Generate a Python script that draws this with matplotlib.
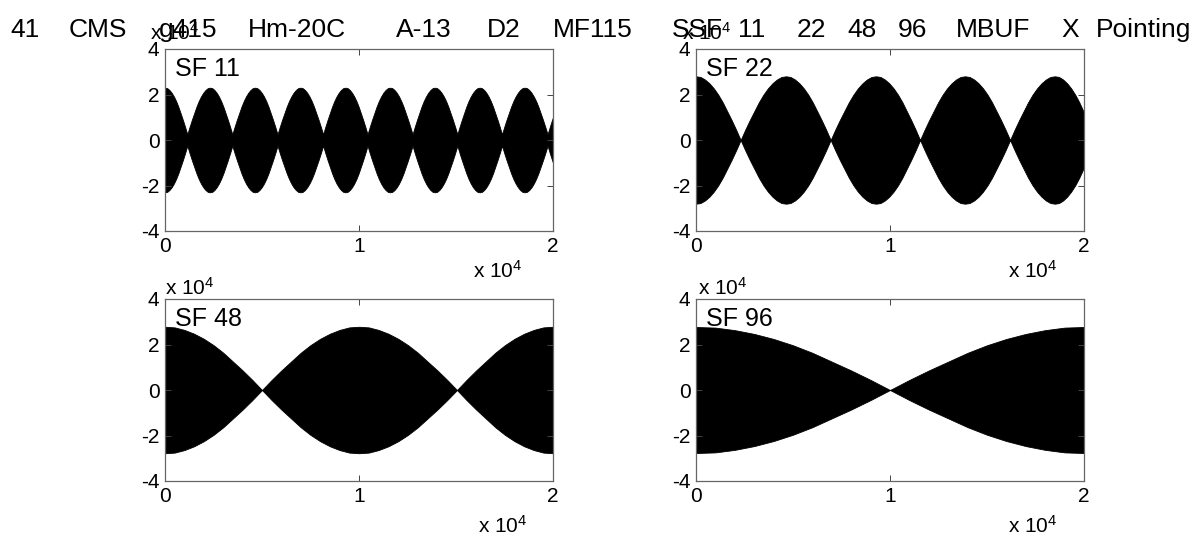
import numpy as np
import matplotlib.pyplot as plt

plt.rcParams['font.family'] = ['Liberation Sans', 'DejaVu Sans']
plt.rcParams['mathtext.fontset'] = 'custom'
plt.rcParams['mathtext.rm'] = 'Liberation Sans'
plt.rcParams['mathtext.it'] = 'Liberation Sans'

W, H = 1198, 536

# title words and where each one sits across the top (pixel centre, last one left edge)
title_words = ['41', 'CMS', 'g415', 'Hm-20C', 'A-13', 'D2', 'MF115', 'SSF',
               '11', '22', '48', '96', 'MBUF', 'X', 'Pointing']
title_x = [25, 98, 188, 297, 424, 504, 593, 697, 752, 811, 862, 912, 993, 1070, 1096]
sf_labels = ['SF 11', 'SF 22', 'SF 48', 'SF 96']

# envelope height from a peak (0) to a node (1)
lobe_frac = [0.0, 0.1, 0.2, 0.3, 0.4, 0.5, 0.6, 0.7, 0.8, 0.9, 1.0]
lobe_shape = [1.0, 0.99, 0.95, 0.89, 0.81, 0.71, 0.59, 0.45, 0.31, 0.16, 0.0]

# peak / node sample positions and amplitudes
peaks = [
    [0, 2320, 4640, 6980, 9300, 11600, 13910, 16220, 18540, 20880],
    [0, 4640, 9280, 13870, 18500],
    [0, 10000, 20000],
    [0, 20000],
]
nodes = [
    [1150, 3470, 5800, 8150, 10440, 12760, 15070, 17370, 19720],
    [2300, 6940, 11550, 16190, 20600],
    [5000, 15050],
    [10000],
]
amp = [2.3e4, 2.8e4, 2.78e4, 2.77e4]
neck = [2500, 0, 0, 0]

yticks = [-4e4, -2e4, 0, 2e4, 4e4]
ytick_labels = ['-4', '-2', '0', '2', '4']
xticks = [0, 1e4, 2e4]
xtick_labels = ['0', '1', '2']


def envelope(pk, nd, a, nk):
    knots = sorted([(x, 'p') for x in pk] + [(x, 'n') for x in nd])
    xs, ys = [], []
    shape = np.array(lobe_shape)
    frac = np.array(lobe_frac)
    for (x0, k0), (x1, k1) in zip(knots[:-1], knots[1:]):
        seg_x = x0 + (x1 - x0) * frac
        seg_y = shape if k0 == 'p' else shape[::-1]
        xs.extend(seg_x)
        ys.extend(nk + (a - nk) * seg_y)
    return np.array(xs), np.array(ys)


fig = plt.figure(figsize=(W / 100, H / 100), dpi=100)

# axes boxes in pixels: left, top, right, bottom
boxes = [(165, 49, 553, 231), (696, 49, 1084, 231),
         (165, 299, 553, 481), (696, 299, 1084, 481)]
fs = 15

for i, (l, t, r, b) in enumerate(boxes):
    ax = fig.add_axes([l / W, 1 - b / H, (r - l) / W, (b - t) / H])
    x, e = envelope(peaks[i], nodes[i], amp[i], neck[i])
    ax.fill_between(x, -e, e, color='black', lw=0.6, edgecolor='black')
    ax.set_xlim(0, 2e4)
    ax.set_ylim(-4e4, 4e4)
    ax.set_xticks(xticks)
    ax.set_xticklabels(xtick_labels)
    ax.set_yticks(yticks)
    ax.set_yticklabels(ytick_labels)
    ax.tick_params(direction='in', length=4, width=0.7, labelsize=fs,
                   top=True, right=True, color='#444444', pad=4)
    for s in ax.spines.values():
        s.set_color('#666666')
        s.set_linewidth(0.9)
    ax.text(0.026, 0.955, sf_labels[i], transform=ax.transAxes,
            fontsize=18, ha='left', va='top')

for k, (w, xp) in enumerate(zip(title_words, title_x)):
    ha = 'left' if k == len(title_words) - 1 else 'center'
    fig.text(xp / W, 1 - 37 / H, w, fontsize=19, ha=ha, va='baseline')

exp_label = r'x 10$^{4}$'
# y-axis multipliers (top left of each panel)
for (xp, yp) in [(150, 40), (682, 40), (165, 295), (698, 295)]:
    fig.text(xp / W, 1 - yp / H, exp_label, fontsize=fs, ha='left', va='baseline')
# x-axis multipliers (below right of each panel)
for (xp, yp) in [(473, 278), (1008, 278), (478, 533), (1008, 533)]:
    fig.text(xp / W, 1 - yp / H, exp_label, fontsize=fs, ha='left', va='baseline')

fig.savefig('out.png', dpi=100)
